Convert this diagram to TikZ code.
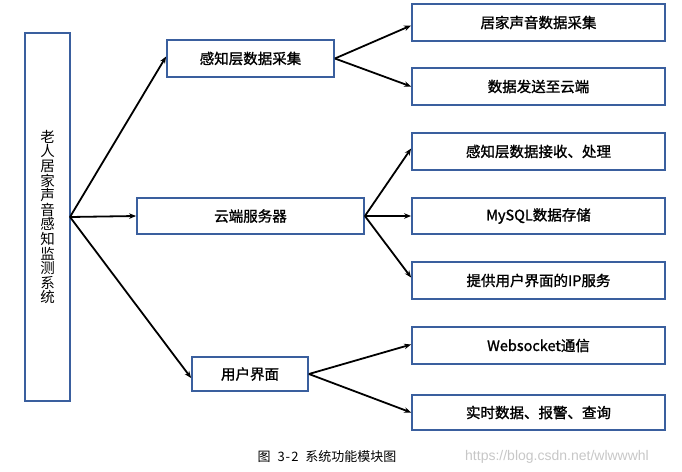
\documentclass[tikz,border=0pt]{standalone}
\usepackage{fontspec}
\newfontfamily\cjk{Noto Sans CJK SC}[FakeBold=1.3]
\newfontfamily\capfont{Noto Sans CJK SC}
\newfontfamily\wm{Liberation Sans}
\usetikzlibrary{arrows.meta}
\definecolor{boxblue}{HTML}{3A5F9E}
\tikzset{
  mod/.style={draw=boxblue, line width=1.8pt, fill=white, inner sep=0pt,
    font=\cjk\fontsize{14.5}{14.5}\selectfont},
  conn/.style={-{Stealth[length=7pt,width=5.5pt]}, line width=1.8pt, black},
}
\begin{document}
\begin{tikzpicture}[x=1pt,y=-1pt]
\useasboundingbox (0,0) rectangle (682,471);
% root
\node[mod, minimum width=45pt, minimum height=368pt, align=center, font=\capfont\fontsize{14.5}{14.6}\selectfont] (root) at (47.5,217)
  {老\\人\\居\\家\\声\\音\\感\\知\\监\\测\\系\\统};
\coordinate (o) at (70,217);
% level 1
\node[mod, minimum width=167pt, minimum height=37pt] (a) at (250.5,58.5) {感知层数据采集};
\node[mod, minimum width=227pt, minimum height=36pt] (b) at (250.5,216) {云端服务器};
\node[mod, minimum width=116pt, minimum height=34pt] (c) at (250,374) {用户界面};
% level 2
\node[mod, minimum width=253pt, minimum height=37pt] (r1) at (538.5,22.5) {居家声音数据采集};
\node[mod, minimum width=253pt, minimum height=37pt] (r2) at (538.5,86.5) {数据发送至云端};
\node[mod, minimum width=253pt, minimum height=37pt] (r3) at (538.5,151.5) {感知层数据接收、处理};
\node[mod, minimum width=253pt, minimum height=36pt] (r4) at (538.5,216) {MySQL数据存储};
\node[mod, minimum width=253pt, minimum height=37pt] (r5) at (538.5,280.5) {提供用户界面的IP服务};
\node[mod, minimum width=253pt, minimum height=37pt] (r6) at (538.5,345.5) {Websocket通信};
\node[mod, minimum width=253pt, minimum height=35pt] (r7) at (538.5,412.5) {实时数据、报警、查询};
% connectors
\draw[conn] (o) -- ([yshift=2pt]a.west);
\draw[conn] (o) -- (b.west);
\draw[conn] (o) -- ([yshift=-4pt]c.west);
\draw[conn] (a.east) -- ([yshift=-3pt]r1.west);
\draw[conn] (a.east) -- (r2.west);
\draw[conn] (b.east) -- ([yshift=3pt]r3.west);
\draw[conn] (b.east) -- (r4.west);
\draw[conn] (b.east) -- ([yshift=3pt]r5.west);
\draw[conn] (c.east) -- ([yshift=1pt]r6.west);
\draw[conn] (c.east) -- (r7.west);
% caption and watermark
\node[font=\capfont\fontsize{13}{13}\selectfont, inner sep=0pt] (cap) at (327,457) {图\hspace{7pt}3\hspace{1pt}-\hspace{1pt}2\hspace{7pt}系统功能模块图};
\node[font=\wm\fontsize{14}{14}\selectfont, text=black!22, inner sep=0pt, anchor=west] (wmk) at (465,457) {https://blog.csdn.net/wlwwwhl};
\end{tikzpicture}
\end{document}
